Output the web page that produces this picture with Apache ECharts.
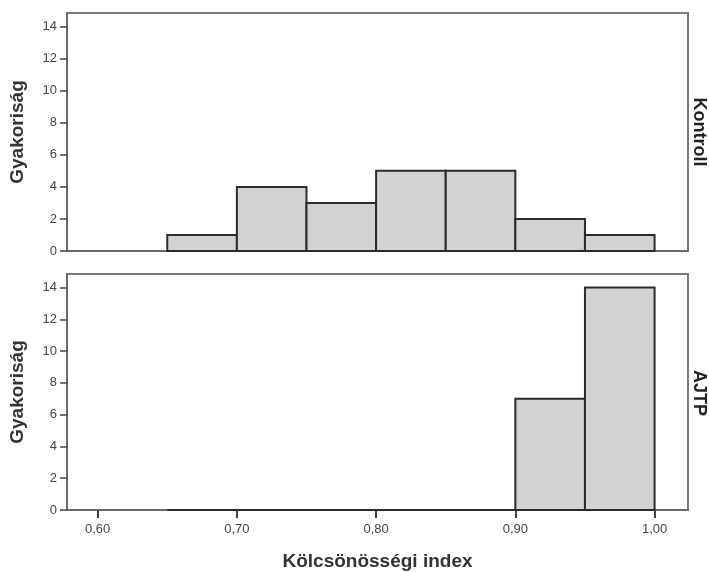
<!DOCTYPE html>
<html>
<head>
<meta charset="utf-8">
<script src="https://cdn.jsdelivr.net/npm/echarts@6/dist/echarts.min.js"></script>
<style>
  html, body { margin: 0; padding: 0; background: #fff; }
  #chart { width: 709px; height: 572px; }
</style>
</head>
<body>
<div id="chart"></div>
<script>
// bin edges (width 0.05) and counts per group
const binStarts = [0.65, 0.70, 0.75, 0.80, 0.85, 0.90, 0.95];
const binWidth = 0.05;
const kontrollCounts = [1, 4, 3, 5, 5, 2, 1];
const ajtpCounts = [0, 0, 0, 0, 0, 7, 14];
const xTicks = [0.60, 0.70, 0.80, 0.90, 1.00];
const yTicks = [0, 2, 4, 6, 8, 10, 12, 14];

const chart = echarts.init(document.getElementById('chart'));

const toBins = counts => binStarts.map((s, i) => [s, s + binWidth, counts[i]]);

const renderBin = (params, api) => {
  const p0 = api.coord([api.value(0), api.value(2)]);
  const p1 = api.coord([api.value(1), 0]);
  return {
    type: 'rect',
    shape: { x: p0[0], y: p0[1], width: p1[0] - p0[0], height: p1[1] - p0[1] },
    style: { fill: '#d2d2d2', stroke: '#2b2b2b', lineWidth: 2 }
  };
};

const fmt = v => v.toFixed(2).replace('.', ',');

const xAxisBase = {
  type: 'value',
  min: 0.578,
  max: 1.024,
  splitLine: { show: false },
  axisLine: { show: true, onZero: false, lineStyle: { color: '#6a6a6a', width: 2 } }
};
const yAxisBase = {
  type: 'value',
  min: 0,
  max: 14.85,
  name: 'Gyakoriság',
  nameLocation: 'middle',
  nameGap: 40,
  nameTextStyle: { fontFamily: 'Liberation Sans', fontWeight: 'bold', fontSize: 19, color: '#333' },
  splitLine: { show: false },
  axisLine: { show: true, lineStyle: { color: '#6a6a6a', width: 2 } },
  axisTick: { show: true, length: 7, customValues: yTicks, lineStyle: { color: '#444', width: 1.5 } },
  axisLabel: { customValues: yTicks, margin: 10, fontFamily: 'Liberation Sans', fontSize: 13, color: '#444' }
};

const option = {
  animation: false,
  grid: [
    { left: 67, top: 13, right: 21, height: 238, show: true, borderColor: '#7a7a7a', borderWidth: 2 },
    { left: 67, top: 274, right: 21, height: 238, show: true, borderColor: '#7a7a7a', borderWidth: 2 }
  ],
  xAxis: [
    Object.assign({}, xAxisBase, {
      gridIndex: 0,
      axisTick: { show: false },
      axisLabel: { show: false }
    }),
    Object.assign({}, xAxisBase, {
      gridIndex: 1,
      name: 'Kölcsönösségi index',
      nameLocation: 'middle',
      nameGap: 42,
      nameTextStyle: { fontFamily: 'Liberation Sans', fontWeight: 'bold', fontSize: 19, color: '#333' },
      axisTick: { show: true, length: 8, customValues: xTicks, lineStyle: { color: '#444', width: 2 } },
      axisLabel: { customValues: xTicks, formatter: fmt, margin: 13, fontFamily: 'Liberation Sans', fontSize: 13, color: '#444' }
    })
  ],
  yAxis: [
    Object.assign({}, yAxisBase, { gridIndex: 0 }),
    Object.assign({}, yAxisBase, { gridIndex: 1 })
  ],
  graphic: [
    {
      type: 'text', x: 699, y: 132, rotation: -Math.PI / 2,
      style: { text: 'Kontroll', font: 'bold 18px "Liberation Sans"', fill: '#222', textAlign: 'center', textVerticalAlign: 'middle' }
    },
    {
      type: 'text', x: 699, y: 393, rotation: -Math.PI / 2,
      style: { text: 'AJTP', font: 'bold 18px "Liberation Sans"', fill: '#222', textAlign: 'center', textVerticalAlign: 'middle' }
    }
  ],
  series: [
    { type: 'custom', xAxisIndex: 0, yAxisIndex: 0, renderItem: renderBin, data: toBins(kontrollCounts) },
    { type: 'custom', xAxisIndex: 1, yAxisIndex: 1, renderItem: renderBin, data: toBins(ajtpCounts) }
  ]
};

chart.setOption(option);
</script>
</body>
</html>
